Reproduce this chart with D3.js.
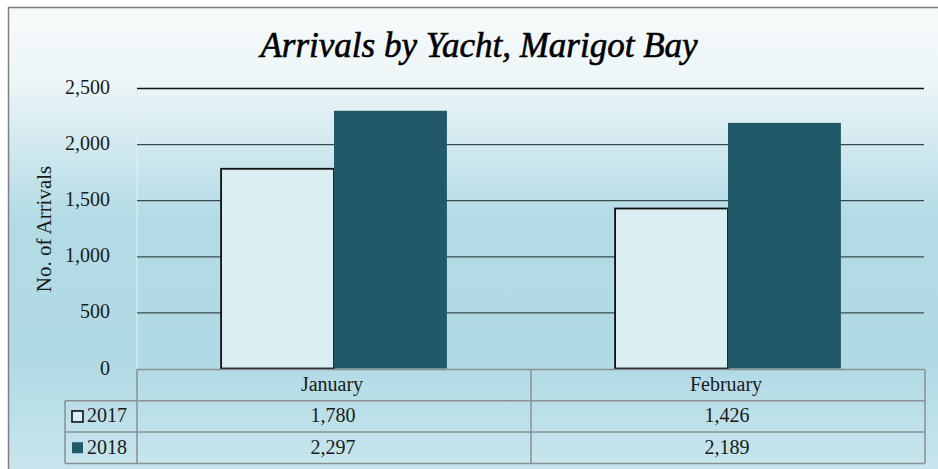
<!DOCTYPE html>
<html>
<head>
<meta charset="utf-8">
<script src="https://cdn.jsdelivr.net/npm/d3@7"></script>
<style>
  html, body { margin: 0; padding: 0; background: #fff; }
</style>
</head>
<body>
<svg id="chart"></svg>
<script>
// data
const categories = ['January', 'February'];
const seriesNames = ['2017', '2018'];
const values2017 = [1780, 1426];
const values2018 = [2297, 2189];
const yTicks = [0, 500, 1000, 1500, 2000, 2500];

const W = 938, H = 469;
const MARGIN = { top: 88, right: 13, bottom: 100, left: 137 };
const FONT = 'Liberation Serif';
const colors = { '2017': '#dbeef3', '2018': '#215968' };

const svg = d3.select('#chart').attr('width', W).attr('height', H);

// background gradient
const defs = svg.append('defs');
const grad = defs.append('linearGradient').attr('id', 'bg')
    .attr('x1', 0).attr('y1', 0).attr('x2', 0).attr('y2', 1);
grad.append('stop').attr('offset', '0%').attr('stop-color', '#f6fafb');
grad.append('stop').attr('offset', '15%').attr('stop-color', '#eef6f8');
grad.append('stop').attr('offset', '45%').attr('stop-color', '#b3dbe6');
grad.append('stop').attr('offset', '75%').attr('stop-color', '#b0dae5');
grad.append('stop').attr('offset', '100%').attr('stop-color', '#c9e6ed');

svg.append('rect').attr('x', 8.5).attr('y', 7.5).attr('width', W).attr('height', H)
    .attr('fill', 'url(#bg)').attr('stroke', '#7f7f7f').attr('stroke-width', 1.5);

function txt(sel) {
    return sel.append('text').attr('font-family', FONT).attr('fill', '#1a1a1a');
}

// title
txt(svg).attr('x', 479).attr('y', 57).attr('text-anchor', 'middle')
    .attr('font-size', 35).attr('font-style', 'italic').attr('fill', '#000')
    .attr('stroke', '#000').attr('stroke-width', 0.6)
    .text('Arrivals by Yacht, Marigot Bay');

const iw = W - MARGIN.left - MARGIN.right;
const plotBottom = 368.5;
const x0 = d3.scaleBand().domain(categories).range([MARGIN.left, MARGIN.left + iw]).paddingInner(0).paddingOuter(0);
const x1 = d3.scaleBand().domain(seriesNames).range([0, x0.bandwidth()]).paddingInner(0).paddingOuter(0.745);
const y = d3.scaleLinear().domain([0, 2500]).range([plotBottom, MARGIN.top]);

// plot area left edge
svg.append('line').attr('x1', MARGIN.left).attr('x2', MARGIN.left)
    .attr('y1', MARGIN.top).attr('y2', plotBottom).attr('stroke', '#e6eef2').attr('stroke-width', 1);

// grid
svg.append('g')
    .attr('transform', `translate(${MARGIN.left},0)`)
    .call(d3.axisLeft(y).tickValues(yTicks).tickSize(-(iw - 1)).tickFormat(''))
    .call(a => a.select('.domain').remove())
    .call(a => a.selectAll('.tick line').attr('stroke', d => d === 2500 ? '#111' : '#3a4a4f').attr('stroke-width', 1.3))
    .call(a => a.selectAll('.tick').filter(d => d === 0).remove());

// y labels
const yl = svg.append('g');
yTicks.forEach(d => {
    txt(yl).attr('x', 110).attr('y', y(d) + 6).attr('text-anchor', 'end')
        .attr('font-size', 20).text(d3.format(',')(d));
});

txt(svg).attr('transform', `translate(51,229) rotate(-90)`)
    .attr('text-anchor', 'middle').attr('font-size', 21).text('No. of Arrivals');

// bars
const rows = categories.map((c, i) => ({ cat: c, '2017': values2017[i], '2018': values2018[i] }));
const bars = svg.append('g').selectAll('g').data(rows).join('g')
    .attr('transform', d => `translate(${x0(d.cat)},0)`);
bars.selectAll('rect').data(d => seriesNames.map(k => ({ key: k, value: d[k] }))).join('rect')
    .attr('x', d => x1(d.key)).attr('width', x1.bandwidth())
    .attr('y', d => y(d.value)).attr('height', d => plotBottom - y(d.value))
    .attr('fill', d => colors[d.key])
    .attr('stroke', d => d.key === '2017' ? '#111' : 'none')
    .attr('stroke-width', 1.8);

// data table
const tableLeft = 65, rowH = 31.3;
const tStroke = '#8a8f92';
const tbl = svg.append('g').attr('fill', 'none').attr('stroke', tStroke).attr('stroke-width', 1.5);
const top0 = plotBottom + 1;
tbl.append('line').attr('x1', MARGIN.left).attr('x2', MARGIN.left + iw).attr('y1', top0).attr('y2', top0);
[1, 2, 3].forEach(r => {
    tbl.append('line').attr('x1', tableLeft).attr('x2', MARGIN.left + iw)
        .attr('y1', top0 + rowH * r).attr('y2', top0 + rowH * r);
});
tbl.append('line').attr('x1', tableLeft).attr('x2', tableLeft).attr('y1', top0 + rowH).attr('y2', top0 + rowH * 3);
[MARGIN.left, x0('February'), MARGIN.left + iw].forEach(xx => {
    tbl.append('line').attr('x1', xx).attr('x2', xx).attr('y1', top0).attr('y2', top0 + rowH * 3);
});

const tt = svg.append('g');
categories.forEach(c => {
    txt(tt).attr('x', x0(c) + x0.bandwidth() / 2 - 2).attr('y', top0 + rowH / 2 + 6)
        .attr('text-anchor', 'middle').attr('font-size', 20).text(c);
});

const seriesVals = { '2017': values2017, '2018': values2018 };
seriesNames.forEach((s, si) => {
    const cy = top0 + rowH * (si + 1) + rowH / 2;
    svg.append('rect').attr('x', 72).attr('y', cy - 5.5).attr('width', 11).attr('height', 11)
        .attr('fill', colors[s]).attr('stroke', s === '2017' ? '#111' : 'none').attr('stroke-width', 1.6);
    txt(tt).attr('x', 87).attr('y', cy + 6).attr('font-size', 20).text(s);
    categories.forEach((c, i) => {
        txt(tt).attr('x', x0(c) + x0.bandwidth() / 2 - 1).attr('y', cy + 6)
            .attr('text-anchor', 'middle').attr('font-size', 20)
            .text(d3.format(',')(seriesVals[s][i]));
    });
});
</script>
</body>
</html>
